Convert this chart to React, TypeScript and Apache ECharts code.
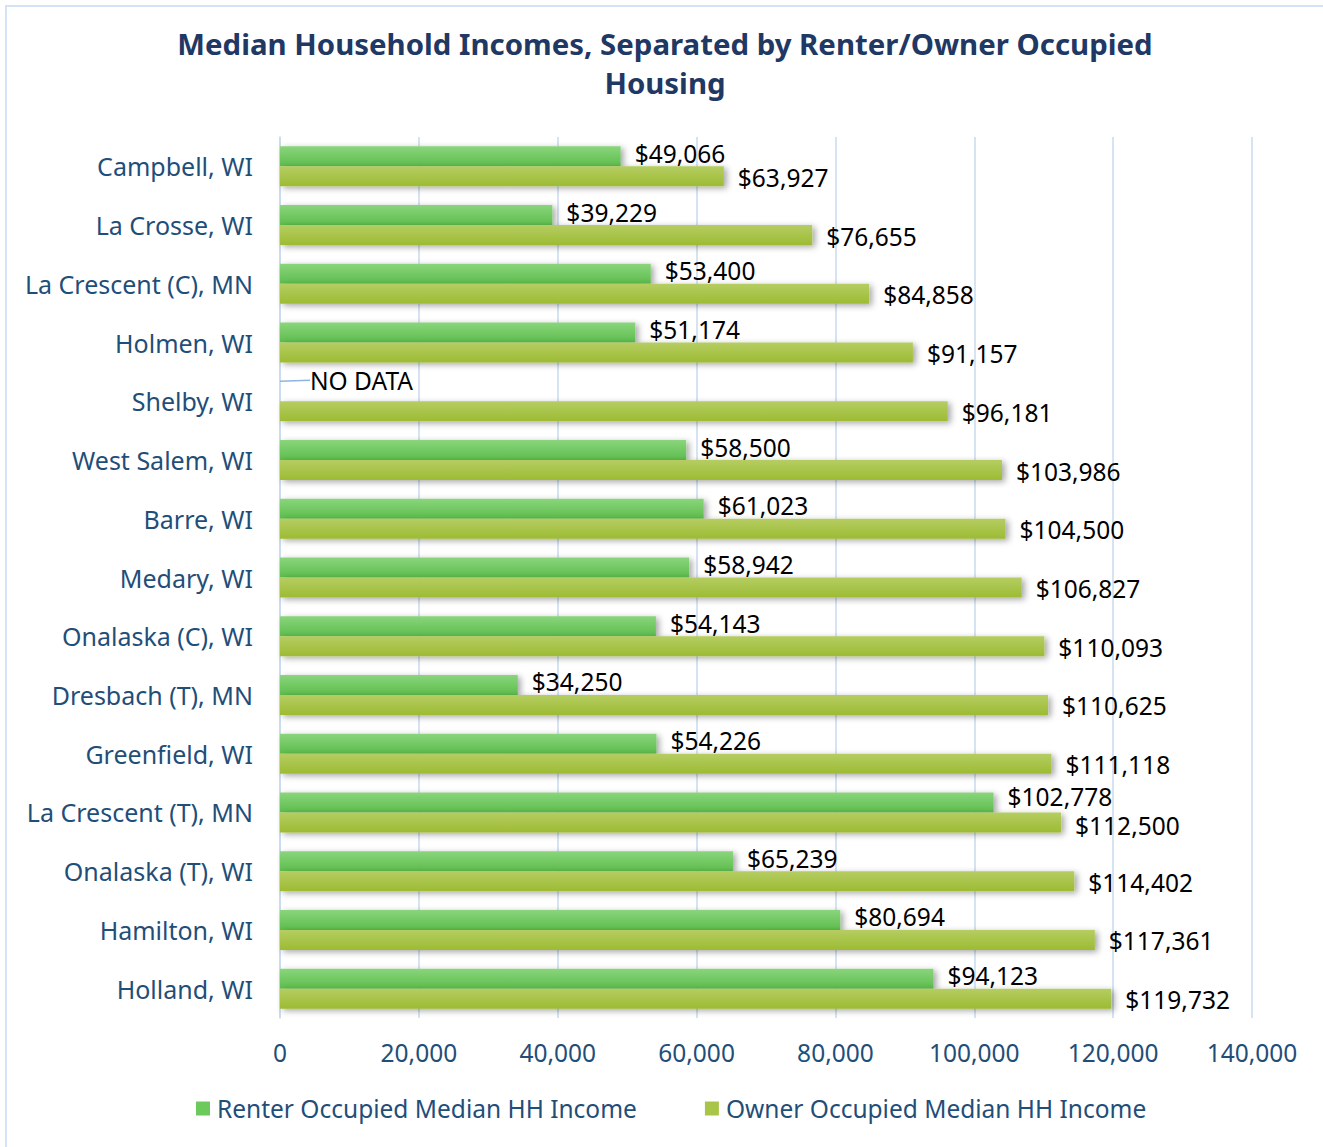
import React, { useEffect, useRef } from "react";
import * as echarts from "echarts";

const categories = [
  "Campbell, WI",
  "La Crosse, WI",
  "La Crescent (C), MN",
  "Holmen, WI",
  "Shelby, WI",
  "West Salem, WI",
  "Barre, WI",
  "Medary, WI",
  "Onalaska (C), WI",
  "Dresbach (T), MN",
  "Greenfield, WI",
  "La Crescent (T), MN",
  "Onalaska (T), WI",
  "Hamilton, WI",
  "Holland, WI",
];

const renterValues: (number | null)[] = [
  49066, 39229, 53400, 51174, null, 58500, 61023, 58942, 54143, 34250, 54226,
  102778, 65239, 80694, 94123,
];

const ownerValues = [
  63927, 76655, 84858, 91157, 96181, 103986, 104500, 106827, 110093, 110625,
  111118, 112500, 114402, 117361, 119732,
];

const xTicks = { min: 0, max: 140000, interval: 20000 };

const FONT = "'Noto Sans', 'Liberation Sans', sans-serif";
const NAVY = "#1f4e79";

const fmt = (v: number) => "$" + v.toLocaleString("en-US");

export default function App() {
  const ref = useRef<HTMLDivElement>(null);
  useEffect(() => {
    document.body.style.margin = "0";
    const chart = echarts.init(ref.current!, null, { renderer: "svg" });
    const renterGrad = new echarts.graphic.LinearGradient(0, 0, 0, 1, [
      { offset: 0, color: "#8ad57c" },
      { offset: 1, color: "#5dbd4d" },
    ]);
    const ownerGrad = new echarts.graphic.LinearGradient(0, 0, 0, 1, [
      { offset: 0, color: "#b5cd62" },
      { offset: 1, color: "#9dbb33" },
    ]);
    const shadow = {
      shadowBlur: 6,
      shadowColor: "rgba(0,0,0,0.35)",
      shadowOffsetX: 3,
      shadowOffsetY: 2,
    };
    chart.setOption({
      animation: false,
      backgroundColor: "#ffffff",
      title: {
        text: "Median Household Incomes, Separated by Renter/Owner Occupied\nHousing",
        left: "center",
        top: 12,
        textStyle: {
          fontFamily: FONT,
          fontWeight: "bold",
          fontSize: 29.4,
          color: "#1f3864",
          lineHeight: 39,
        },
      },
      legend: {
        bottom: 21,
        left: 184,
        itemWidth: 14,
        itemHeight: 14,
        itemGap: 68,
        icon: "rect",
        textStyle: { fontFamily: FONT, fontSize: 24.5, color: NAVY, padding: [0, 0, 0, 2] },
        data: [
          { name: "Renter Occupied Median HH Income", itemStyle: { color: "#6cc95c" } },
          { name: "Owner Occupied Median HH Income", itemStyle: { color: "#a8c548" } },
        ],
      },
      grid: { left: 273, right: 71, top: 130, bottom: 129, containLabel: false },
      xAxis: {
        type: "value",
        min: xTicks.min,
        max: xTicks.max,
        interval: xTicks.interval,
        axisLine: { show: false },
        axisTick: { show: false },
        splitLine: { show: true, lineStyle: { color: "#c9daef", width: 1.5 } },
        axisLabel: {
          fontFamily: FONT,
          fontSize: 24.5,
          color: NAVY,
          margin: 22,
          formatter: (v: number) => v.toLocaleString("en-US"),
        },
      },
      yAxis: {
        type: "category",
        data: categories,
        inverse: true,
        axisLine: { show: true, lineStyle: { color: "#c9daef", width: 1.5 } },
        axisTick: { show: false },
        axisLabel: {
          fontFamily: FONT,
          fontSize: 25,
          color: NAVY,
          margin: 27,
        },
      },
      series: [
        {
          name: "Renter Occupied Median HH Income",
          type: "bar",
          barWidth: 20,
          barGap: "0%",
          itemStyle: { color: renterGrad, ...shadow },
          label: {
            show: true,
            position: "right",
            distance: 14,
            fontFamily: FONT,
            fontSize: 24.5,
            color: "#000000",
            formatter: (p: any) => (p.value == null || p.value === 0 ? "NO DATA" : fmt(p.value)),
          },
          labelLine: { show: false, lineStyle: { color: "#8eb4e3", width: 1.5 } },
          labelLayout: (p: any) =>
            p.dataIndex === 4
              ? { dx: 16, dy: -11 }
              : p.dataIndex === 11
              ? { dy: -6 }
              : { dy: -3 },
          data: renterValues.map((v) =>
            v == null
              ? {
                  value: 0,
                  itemStyle: { shadowBlur: 0, shadowOffsetX: 0, shadowOffsetY: 0 },
                  labelLine: { show: true, lineStyle: { color: "#8eb4e3", width: 1.5 } },
                }
              : v
          ),
        },
        {
          name: "Owner Occupied Median HH Income",
          type: "bar",
          barWidth: 20,
          barGap: "0%",
          itemStyle: { color: ownerGrad, ...shadow },
          label: {
            show: true,
            position: "right",
            distance: 14,
            fontFamily: FONT,
            fontSize: 24.5,
            color: "#000000",
            formatter: (p: any) => fmt(p.value),
          },
          labelLayout: (p: any) => (p.dataIndex === 11 ? { dy: 3 } : { dy: 1 }),
          data: ownerValues,
        },
      ],
    });
    return () => chart.dispose();
  }, []);
  return (
    <div style={{ position: "relative", width: 1323, height: 1147, overflow: "hidden" }}>
      <div
        style={{
          position: "absolute",
          left: 5,
          top: 5,
          width: 1330,
          height: 1160,
          borderLeft: "2px solid #d3e2f4",
          borderTop: "2px solid #d3e2f4",
          boxSizing: "border-box",
        }}
      />
      <div ref={ref} style={{ position: "absolute", left: 7, top: 7, width: 1316, height: 1140 }} />
    </div>
  );
}
